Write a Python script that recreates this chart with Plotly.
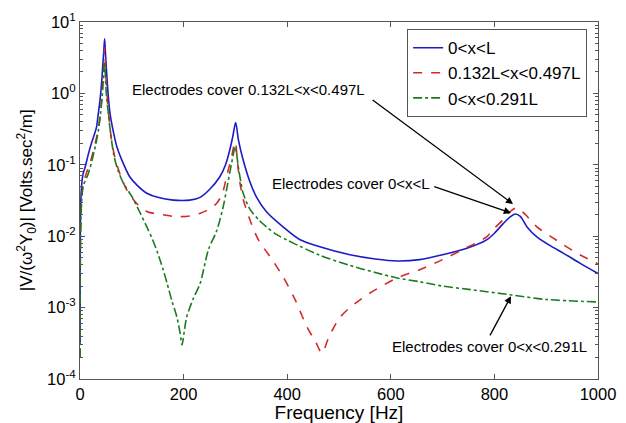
import plotly.graph_objects as go

# ---------------- data ----------------
freq_full = [0.2, 1, 3, 6, 10, 16, 22, 28, 32, 35, 39, 42, 44, 46, 47.5, 49, 51.5, 54.7, 58, 64,
             71, 80, 96, 110, 129, 150, 180, 212, 232, 250, 270, 281, 289, 295, 300.5, 306, 315, 328,
             341, 360, 392, 424, 463, 521, 570, 612, 656, 700, 747, 785, 800, 817, 830, 840, 850, 863,
             882, 910, 933, 965, 1000]
val_full = [0.0003, 0.02, 0.05, 0.075, 0.093, 0.14, 0.2, 0.27, 0.34, 0.5, 0.85, 1.5, 2.5, 4.0, 5.8,
            3.8, 1.9, 0.9, 0.52, 0.3, 0.18, 0.12, 0.068, 0.052, 0.04, 0.035, 0.032, 0.032, 0.035,
            0.045, 0.068, 0.1, 0.16, 0.25, 0.39, 0.22, 0.117, 0.058, 0.035, 0.022, 0.0135, 0.009,
            0.0071, 0.0055, 0.0048, 0.0045, 0.0047, 0.0055, 0.0068, 0.0089, 0.011, 0.015, 0.0185,
            0.0205, 0.019, 0.0135, 0.0098, 0.0072, 0.0058, 0.0042, 0.003]

freq_mid = [0.2, 1, 3, 6.4, 12, 19, 27, 35, 39, 42, 44, 46, 47.5, 49, 51, 54, 58, 61, 67, 77, 90, 109,
            130, 161, 185, 212, 232, 250, 264, 275, 283, 288, 292.6, 296, 298.5, 301, 303, 309, 315,
            328, 344, 370, 392, 415, 438, 455, 467, 480, 500, 521, 560, 612, 656, 700, 737, 785, 800,
            817, 830, 843, 860, 882, 910, 933, 965, 1000]
val_mid = [0.0002, 0.01, 0.03, 0.055, 0.075, 0.104, 0.17, 0.31, 0.5, 0.85, 1.4, 2.6, 4.4, 2.6, 1.3,
           0.65, 0.33, 0.22, 0.13, 0.075, 0.045, 0.029, 0.022, 0.02, 0.0188, 0.0192, 0.021, 0.024,
           0.029, 0.04, 0.068, 0.095, 0.13, 0.17, 0.21, 0.19, 0.13, 0.055, 0.033, 0.017, 0.009,
           0.0048, 0.0027, 0.0013, 0.00054, 0.00033, 0.00023, 0.00038, 0.0007, 0.001, 0.0016, 0.0026,
           0.0034, 0.0047, 0.0064, 0.0098, 0.013, 0.017, 0.022, 0.025, 0.02, 0.0135, 0.0098, 0.0076,
           0.0055, 0.0041]

freq_part = [0.2, 1, 3, 6, 16, 25, 32, 36, 40, 43, 45, 46.5, 47.5, 48.5, 50, 52, 55, 58, 65, 73, 84,
             100, 115, 129, 140, 150, 160, 168, 178, 187, 193, 197, 201, 206, 218, 232, 248, 264, 276,
             283, 292, 296, 299, 302, 305, 310, 315, 328, 345, 360, 380, 400, 425, 463, 521, 570, 612,
             656, 700, 750, 834, 900, 1000]
val_part = [0.0002, 0.01, 0.03, 0.05, 0.075, 0.13, 0.22, 0.32, 0.55, 0.95, 1.6, 2.4, 2.8, 2.2, 1.2,
            0.8, 0.5, 0.32, 0.14, 0.085, 0.055, 0.036, 0.022, 0.0135, 0.009, 0.0058, 0.0035, 0.0022,
            0.0012, 0.00074, 0.00045, 0.0003, 0.00045, 0.00074, 0.0013, 0.0022, 0.0065, 0.012, 0.025,
            0.045, 0.1, 0.14, 0.18, 0.15, 0.1, 0.06, 0.04, 0.024, 0.017, 0.0135, 0.0105, 0.0088,
            0.0072, 0.0054, 0.0039, 0.0031, 0.0026, 0.0023, 0.002, 0.0018, 0.0015, 0.0013, 0.0012]

series_names = ["0&lt;x&lt;L", "0.132L&lt;x&lt;0.497L", "0&lt;x&lt;0.291L"]

x_ticks = [0, 200, 400, 600, 800, 1000]
y_ticks = [1e-4, 1e-3, 1e-2, 1e-1, 1e0, 1e1]
y_ticktext = ["10<sup>-4</sup>", "10<sup>-3</sup>", "10<sup>-2</sup>", "10<sup>-1</sup>",
              "10<sup>0</sup>", "10<sup>1</sup>"]

# annotation texts: (text, x, log10 y)
notes = [("Electrodes cover 0.132L&lt;x&lt;0.497L", 326, 0.048),
         ("Electrodes cover 0&lt;x&lt;L", 523, -1.255),
         ("Electrodes cover 0&lt;x&lt;0.291L", 790, -3.54)]
# arrows: (tail x, tail log y, tip x, tip log y)
arrows = [(562, -0.078, 836, -1.55),
          (681, -1.297, 832, -1.675),
          (790, -3.41, 832, -2.84)]

FONT = "Liberation Sans, Arial, sans-serif"
AX = "#555555"
SMOOTH = 0.8

fig = go.Figure()
fig.add_trace(go.Scatter(x=freq_full, y=val_full, mode="lines", name=series_names[0],
                         line=dict(color="#1c1cc4", width=1.6, shape="spline", smoothing=SMOOTH)))
fig.add_trace(go.Scatter(x=freq_mid, y=val_mid, mode="lines", name=series_names[1],
                         line=dict(color="#d42a2a", width=1.6, dash="dash", shape="spline",
                                   smoothing=SMOOTH)))
fig.add_trace(go.Scatter(x=freq_part, y=val_part, mode="lines", name=series_names[2],
                         line=dict(color="#1e7a1e", width=1.6, dash="dashdot", shape="spline",
                                   smoothing=SMOOTH)))

for t, x, ly in notes:
    fig.add_annotation(x=x, y=ly, xref="x", yref="y", text=t, showarrow=False,
                       font=dict(family=FONT, size=15, color="black"),
                       xanchor="center", yanchor="middle")
for tx, ty, hx, hy in arrows:
    fig.add_annotation(x=hx, y=hy, ax=tx, ay=ty, xref="x", yref="y", axref="x", ayref="y",
                       text="", showarrow=True, arrowhead=2, arrowsize=1.1, arrowwidth=1.3,
                       arrowcolor="black")

# y-axis title as a rotated annotation for exact placement
fig.add_annotation(x=-0.103, y=0.5, xref="paper", yref="paper", textangle=-90,
                   text="|V/(\u03c9<sup>2</sup>Y<sub>0</sub>)| [Volts.sec<sup>2</sup>/m]",
                   showarrow=False, xanchor="center", yanchor="middle",
                   font=dict(family=FONT, size=17, color="black"))

axis_common = dict(showline=True, linecolor=AX, linewidth=1, mirror="allticks",
                   ticks="inside", ticklen=5, tickcolor=AX, showgrid=False, zeroline=False,
                   tickfont=dict(family=FONT, size=16.5, color="black"), automargin=False)

fig.update_xaxes(range=[0, 1000], tickvals=x_ticks, ticktext=[str(v) for v in x_ticks],
                 title=dict(text="Frequency [Hz]", font=dict(family=FONT, size=19, color="black"),
                            standoff=0),
                 **axis_common)
fig.update_yaxes(type="log", range=[-4, 1], tickvals=y_ticks, ticktext=y_ticktext,
                 minor=dict(ticks="inside", ticklen=3, tickcolor=AX, dtick="D1", showgrid=False),
                 **axis_common)

fig.update_layout(
    width=618, height=415,
    margin=dict(l=72, r=28, t=14, b=44),
    paper_bgcolor="white", plot_bgcolor="white",
    font=dict(family=FONT, color="black"),
    legend=dict(x=0.979, y=0.98, xanchor="right", yanchor="top",
                bordercolor=AX, borderwidth=1, bgcolor="white",
                font=dict(family=FONT, size=17, color="black"),
                tracegroupgap=0, itemwidth=30),
    showlegend=True,
)

fig.write_html("out.html")
